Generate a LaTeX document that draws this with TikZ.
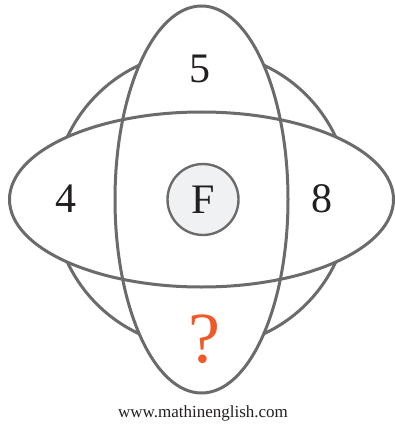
\documentclass[tikz,border=0pt]{standalone}
\usepackage{fontspec}
\setmainfont{Liberation Serif}
\usepackage{tikz}
\usetikzlibrary{positioning}
\definecolor{ringgray}{HTML}{6B6B6B}
\definecolor{hubfill}{HTML}{F0F1F3}
\definecolor{inkblack}{HTML}{231F20}
\definecolor{qorange}{HTML}{F05A28}
\tikzset{
  ring line/.style={line width=3pt, ringgray},
  number label/.style={font=\fontsize{42}{46}\selectfont, text=inkblack, inner sep=0pt},
  hub/.style={circle, draw=ringgray, line width=2.4pt, fill=hubfill, minimum size=71pt, inner sep=0pt,
    font=\fontsize{42}{46}\selectfont, text=inkblack},
}

\begin{document}
\begin{tikzpicture}[x=1pt, y=-1pt]
  \useasboundingbox (0,0) rectangle (394,425);
  \coordinate (O) at (201.5,199.5);
  \draw[ring line] (O) circle (148);
  % ellipses cover the ring where they overlap it
  \fill[white] (O) ellipse (86.5 and 193.5);
  \fill[white] (O) ellipse (192 and 87.5);
  \draw[ring line] (O) ellipse (86.5 and 193.5);
  \draw[ring line] (O) ellipse (192 and 87.5);
  \node[hub] (F) at (203,199.5) {F};
  \node[number label] (top) at (200,69) {5};
  \node[number label] (left) at (66,199) {4};
  \node[number label] (right) at (322,199) {8};
  \node[font=\fontsize{72}{76}\selectfont, text=qorange, inner sep=0pt] (ask) at (204,339) {?};
  \node[font=\fontsize{17}{19}\selectfont, text=inkblack, inner sep=0pt] (site) at (203,413) {www.mathinenglish.com};
\end{tikzpicture}
\end{document}
